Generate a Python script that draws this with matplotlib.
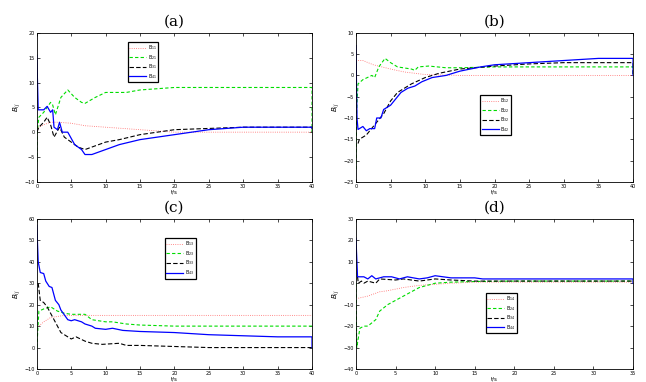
import matplotlib.pyplot as plt

# ---- panel (a) ----
ta_r = [0, 0.3, 1, 2, 3, 5, 7, 10, 15, 20, 40, 40]
ya_r = [0, 1, 1.5, 2, 2, 1.8, 1.3, 1, 0.5, 0, 0, 0]
ta_g = [0, 0.05, 0.3, 1, 1.5, 2, 2.3, 2.7, 3.5, 4.5, 5.5, 6.5, 7, 8.5, 10, 13, 15, 20, 40, 40]
ya_g = [-6, 0, 3, 4, 5, 6, 5.5, 3.5, 7, 8.5, 7, 6, 5.8, 7, 8, 8, 8.5, 9, 9, 0]
ta_k = [0, 0.3, 1, 1.5, 2, 2.5, 3.3, 4, 5, 6, 7, 8, 10, 12, 15, 20, 30, 40, 40]
ya_k = [0, 1, 2, 3, 1.5, -1, 1, -1, -2, -3, -3.5, -3, -2, -1.5, -0.5, 0.5, 1, 1, 0]
ta_b = [0, 0.2, 1, 1.5, 2, 2.3, 2.5, 3, 3.3, 3.7, 4.5, 5.5, 6.5, 7, 8, 10, 12, 15, 20, 25, 30, 40, 40]
ya_b = [15.5, 4.5, 4.5, 5.2, 4, 4.5, 1, 0.5, 2, 0, 0, -2.5, -3.5, -4.5, -4.5, -3.5, -2.5, -1.5, -0.5, 0.5, 1, 1, 0.8]

# ---- panel (b) ----
tb_r = [0, 1, 2.5, 5, 7, 10, 15, 40, 40]
yb_r = [3.5, 3.5, 2.5, 1.5, 0.8, 0.2, 0, 0, 0]
tb_g = [0, 0.1, 0.3, 1, 2.3, 2.7, 3.3, 4.2, 5, 6, 8, 8.5, 9, 10.5, 13, 15, 20, 40, 40]
yb_g = [-22, -8, -2, -1, 0, -0.5, 2, 4, 3, 2, 1.5, 1.2, 2, 2.2, 1.8, 1.8, 2, 2, 0]
tb_k = [0.3, 0.5, 1.5, 2.5, 4, 5, 6, 7, 8, 10, 12, 15, 20, 25, 30, 40, 40]
yb_k = [-16, -15, -14, -12, -9, -6, -4, -3, -2, -0.5, 0.5, 1.5, 2.2, 2.7, 3, 3, 0]
tb_b = [0, 0.15, 0.3, 1, 1.5, 2, 2.7, 3, 3.6, 4, 5, 5.5, 6.5, 7.5, 8.5, 9.5, 11, 13, 15, 18, 20, 25, 30, 35, 40, 40]
yb_b = [7, -10, -12.7, -12, -13, -12.5, -12.5, -10, -10, -8, -7, -6, -4, -3, -2.5, -1.5, -0.5, 0, 1, 2, 2.5, 3, 3.5, 4, 4, 0]

# ---- panel (c) ----
tc_r = [0.3, 1, 2, 4, 40, 40]
yc_r = [10, 12, 14, 15, 15, 15]
tc_g = [0, 0.3, 1, 2, 3, 4, 5, 7, 8, 10, 11, 13, 15, 20, 40]
yc_g = [0, 17, 18, 19, 17, 16, 15.5, 15.5, 13, 12, 12, 11, 10.5, 10, 10]
tc_k = [0.2, 0.5, 1, 1.5, 2.5, 3.5, 5, 5.7, 7, 8, 9.5, 12, 13, 15, 20, 25, 40, 40]
yc_k = [30, 22, 21, 19, 13, 7, 4, 5, 3, 2, 1.5, 2, 1, 1, 0.5, 0, 0, 0]
tc_b = [0, 0.2, 0.5, 1, 1.3, 1.8, 2.2, 2.7, 3.2, 3.5, 4.5, 5, 5.5, 6.5, 7, 8, 8.5, 10, 11, 12.5, 15, 20, 25, 30, 35, 40, 40]
yc_b = [57, 40, 35, 34.5, 31, 28.5, 28, 22, 20, 17.5, 13, 12.5, 13, 12, 11, 10, 9, 8.5, 9, 8, 7.5, 7, 6, 5.5, 5, 5, 0]

# ---- panel (d) ----
td_r = [0.3, 1.5, 3, 4, 6, 8, 12, 15, 35, 35]
yd_r = [-7, -6, -4, -3.5, -2, -1, 0, 0.5, 0.5, 0.5]
td_g = [0, 0.1, 0.5, 1, 1.5, 2.5, 3, 4, 5, 6, 7, 8, 9, 10, 12, 15, 20, 35, 35]
yd_g = [0, -30, -21, -20, -20, -17, -13, -10, -8, -6, -4, -2, -1, 0, 0.5, 0.8, 1, 1, 1]
td_k = [0.2, 0.3, 0.7, 1, 1.5, 2.5, 3, 5, 6, 8, 10, 12, 15, 35, 35]
yd_k = [3, 0, 1, 0, 1, 0, 2, 1.5, 2, 1, 2, 1.5, 1, 1, 1]
td_b = [0, 0.2, 1, 1.5, 2, 2.5, 3.5, 4.5, 5.5, 6.5, 8, 9, 10, 12, 15, 16, 35, 35]
yd_b = [21, 3, 3, 2, 3.5, 2, 3, 3, 2, 3, 2, 2.5, 3.5, 2.5, 2.5, 2, 2, 0]

panels = [
    ('(a)', [0.057, 0.524, 0.426, 0.39], (0, 40), (-10, 20), 5,
     [(ta_r, ya_r), (ta_g, ya_g), (ta_k, ya_k), (ta_b, ya_b)], '1', (0.33, 0.94)),
    ('(b)', [0.551, 0.524, 0.429, 0.39], (0, 40), (-25, 10), 5,
     [(tb_r, yb_r), (tb_g, yb_g), (tb_k, yb_k), (tb_b, yb_b)], '2', (0.448, 0.584)),
    ('(c)', [0.057, 0.034, 0.426, 0.393], (0, 40), (-10, 60), 10,
     [(tc_r, yc_r), (tc_g, yc_g), (tc_k, yc_k), (tc_b, yc_b)], '3', (0.465, 0.873)),
    ('(d)', [0.551, 0.034, 0.429, 0.393], (0, 35), (-40, 30), 10,
     [(td_r, yd_r), (td_g, yd_g), (td_k, yd_k), (td_b, yd_b)], '4', (0.469, 0.507)),
]

styles = [dict(color='#ff6666', ls=':', lw=0.6),
          dict(color='#00dd00', ls='--', lw=0.8, dashes=(3, 2)),
          dict(color='black', ls='--', lw=0.8, dashes=(4, 2)),
          dict(color='#0000ff', ls='-', lw=0.9)]

fig = plt.figure(figsize=(6.46, 3.82), dpi=100)

for title, pos, xl, yl, ystep, series, j, lpos in panels:
    ax = fig.add_axes(pos)
    for i, ((t, y), st) in enumerate(zip(series, styles)):
        ax.plot(t, y, label=r'$\mathrm{B}_{%d%s}$' % (i + 1, j), **st)
    ax.set_xlim(*xl)
    ax.set_ylim(*yl)
    ax.set_xticks(range(xl[0], xl[1] + 1, 5))
    ax.set_yticks(range(yl[0], yl[1] + 1, ystep))
    ax.tick_params(direction='in', length=2, width=0.5, labelsize=3.5, pad=1.5,
                   top=True, right=True)
    for s in ax.spines.values():
        s.set_linewidth(0.6)
    ax.set_title(title, fontsize=11, family='DejaVu Serif', pad=5)
    ax.set_ylabel(r'$B_{ij}$', fontsize=5, labelpad=1)
    ax.set_xlabel('t/s', fontsize=4, labelpad=0.5)
    leg = ax.legend(loc='upper left', bbox_to_anchor=lpos, fontsize=3.4,
                    handlelength=3.6, handletextpad=0.4, labelspacing=0.15,
                    borderpad=0.3, borderaxespad=0, fancybox=False, framealpha=1)
    leg.get_frame().set_edgecolor('black')
    leg.get_frame().set_linewidth(0.9)

fig.savefig('out.png', dpi=100)
